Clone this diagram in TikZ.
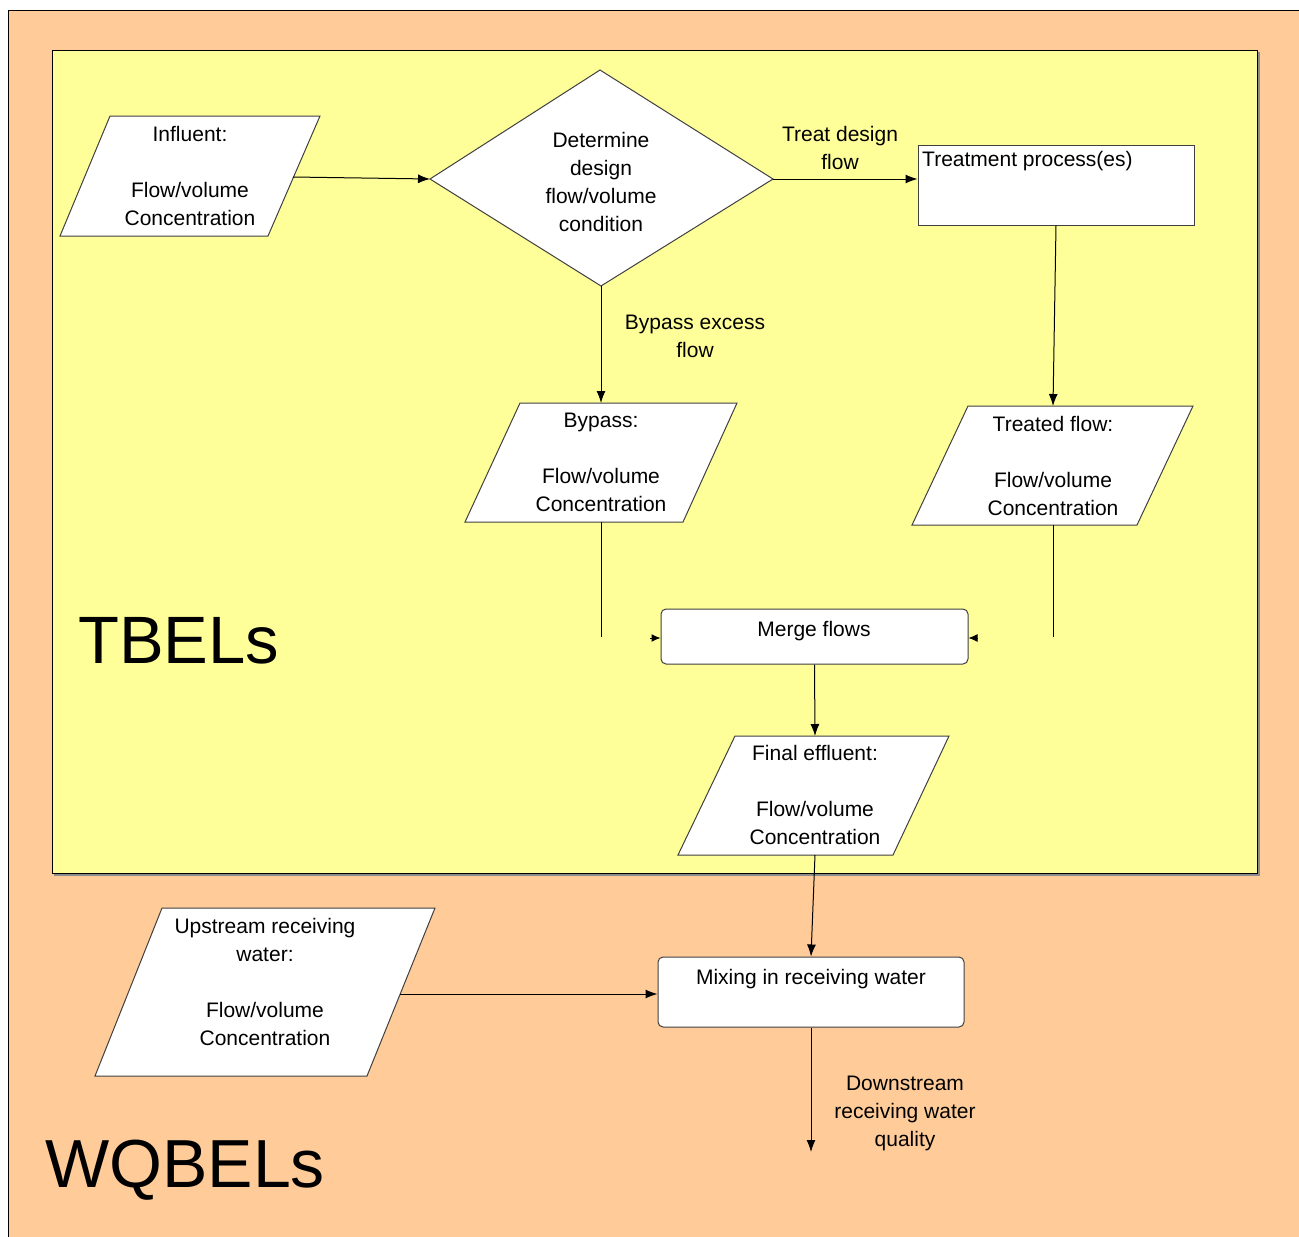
\documentclass[tikz,border=0pt]{standalone}
\usepackage{fontspec}
\setmainfont{Liberation Sans}
\usetikzlibrary{arrows.meta}
\definecolor{peach}{HTML}{FFCC99}
\definecolor{pale}{HTML}{FFFF99}
\begin{document}
\begin{tikzpicture}[x=1pt,y=-1pt,
  shp/.style={draw=black!75, fill=white, line width=1pt},
  rbox/.style={draw=black!75, fill=white, line width=1pt, inner sep=0pt},
  lbl/.style={font=\fontsize{21}{28}\selectfont, align=center, inner sep=0pt, anchor=north},
  big/.style={font=\fontsize{67}{67}\selectfont, inner sep=0pt, anchor=base west},
  arr/.style={-{Latex[length=12pt,width=9pt]}, line width=1pt},
  ln/.style={line width=1pt},
  tip/.style={-{Latex[length=9pt,width=8pt]}, line width=1pt}]
\useasboundingbox (0,0) rectangle (1299,1237);
\fill[white] (0,0) rectangle (1299,1237);
\fill[peach] (8,10) rectangle (1299,1237);
\draw[line width=1pt] (8,1237) -- (8,10) -- (1299,10);
% TBELs area
\draw[black!45, line width=1.5pt] (1259,52) -- (1259,875) -- (54,875);
\draw[fill=pale, line width=1pt] (52,50) rectangle (1257,873);

% Influent
\draw[shp] (110,116) -- (320,116) -- (268,236) -- (60,236) -- cycle;
\coordinate (inflR) at (293,177);
\node[lbl] (infltxt) at (190,126) {Influent:\\[28pt]Flow/volume\\Concentration};

% Decision diamond
\draw[shp] (600,70) -- (773,179) -- (601,286) -- (430,179) -- cycle;
\coordinate (dT) at (600,70);
\coordinate (dR) at (773,179);
\coordinate (dB) at (601,286);
\coordinate (dL) at (430,179);
\node[lbl] (dectxt) at (601,132) {Determine\\design\\flow/volume\\condition};

% Treatment process
\node[rbox, minimum width=276pt, minimum height=80pt] (treat) at (1056,185) {};
\node[lbl, anchor=north west, align=left] (treattxt) at (922,151) {Treatment process(es)};
\node[lbl] (treatlbl) at (840,126) {Treat design\\flow};

% Bypass
\node[lbl] (bylbl) at (695,315) {Bypass excess\\flow};
\draw[shp] (520,403) -- (737,403) -- (683,522) -- (465,522) -- cycle;
\coordinate (byT) at (601,403);
\coordinate (byB) at (601,522);
\coordinate (byE) at (601,637);
\node[lbl] (bytxt) at (601,413) {Bypass:\\[28pt]Flow/volume\\Concentration};

% Treated flow
\draw[shp] (968,406) -- (1193,406) -- (1137,525) -- (912,525) -- cycle;
\coordinate (trT) at (1053,406);
\coordinate (trB) at (1053,525);
\coordinate (trE) at (1053,637);
\node[lbl] (trtxt) at (1053,416) {Treated flow:\\[28pt]Flow/volume\\Concentration};

% Merge flows
\node[rbox, rounded corners=5pt, minimum width=307pt, minimum height=55pt] (merge) at (814.5,636.5) {};
\node[lbl] (mergetxt) at (814,621) {Merge flows};
\coordinate (mL) at (650,638);
\coordinate (mR) at (978,638);

% Final effluent
\draw[shp] (735,736) -- (949,736) -- (893,855) -- (678,855) -- cycle;
\coordinate (fiT) at (815,736);
\coordinate (fiB) at (815,855);
\node[lbl] (fitxt) at (815,745) {Final effluent:\\[28pt]Flow/volume\\Concentration};

% Mixing
\node[rbox, rounded corners=5pt, minimum width=306pt, minimum height=70pt] (mix) at (811,992) {};
\node[lbl] (mixtxt) at (811,969) {Mixing in receiving water};

% Upstream
\draw[shp] (162,908) -- (435,908) -- (367,1076) -- (95,1076) -- cycle;
\coordinate (upR) at (400,994);
\node[lbl] (uptxt) at (265,918) {Upstream receiving\\water:\\[28pt]Flow/volume\\Concentration};

% Downstream
\coordinate (dsE) at (811,1152);
\node[lbl] (dstxt) at (905,1076) {Downstream\\receiving water\\quality};

% Big labels
\node[big] (tbel) at (78,663) {TBELs};
\node[big, font=\fontsize{68}{68}\selectfont] (wqbel) at (45,1187) {WQBELs};

% Connectors
\draw[arr] (inflR) -- (dL);
\draw[arr] (dR) -- (dR -| treat.west);
\draw[arr] (treat.south) -- (trT);
\draw[arr] (dB) -- (byT);
\draw[ln] (byB) -- (byE);
\draw[ln] (trB) -- (trE);
\draw[tip] (mL) -- (mL -| merge.west);
\draw[tip] (mR) -- (mR -| merge.east);
\draw[arr] (merge.south) -- (fiT);
\draw[arr] (fiB) -- (mix.north);
\draw[arr] (upR) -- (upR -| mix.west);
\draw[arr] (mix.south) -- (dsE);
\end{tikzpicture}
\end{document}
